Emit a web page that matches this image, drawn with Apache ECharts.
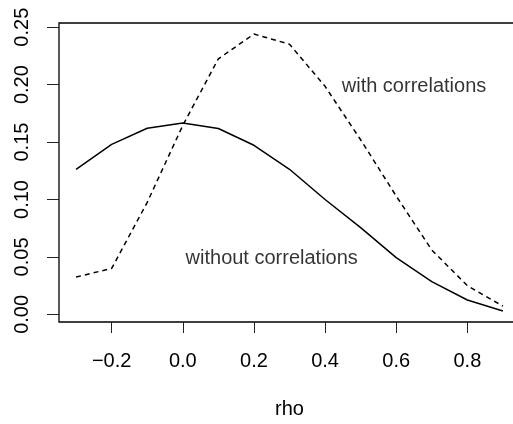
<!DOCTYPE html>
<html>
<head>
<meta charset="utf-8">
<script src="https://cdn.jsdelivr.net/npm/echarts@6/dist/echarts.min.js"></script>
<style>html,body{margin:0;padding:0;background:#fff;overflow:hidden;width:513px;height:424px}#c{width:540px;height:424px}</style>
</head>
<body>
<div id="c"></div>
<script>
var rho = [-0.3, -0.2, -0.1, 0.0, 0.1, 0.2, 0.3, 0.4, 0.5, 0.6, 0.7, 0.8, 0.9];
var withoutCorr = [0.1263, 0.148, 0.162, 0.1665, 0.1618, 0.1472, 0.1263, 0.1, 0.0755, 0.0494, 0.0285, 0.0125, 0.003];
var withCorr = [0.0325, 0.0400, 0.0975, 0.1645, 0.2225, 0.2440, 0.2352, 0.1985, 0.1520, 0.1030, 0.0560, 0.0250, 0.0072];
var xTicks = [-0.2, 0.0, 0.2, 0.4, 0.6, 0.8];
var yTicks = [0.00, 0.05, 0.10, 0.15, 0.20, 0.25];
var annotations = [
  {text: 'with correlations', x: 0.65, y: 0.2},
  {text: 'without correlations', x: 0.25, y: 0.05}
];

function pairs(xs, ys) { return xs.map(function (x, i) { return [x, ys[i]]; }); }
function pad(lo, hi) { var r = hi - lo; return [lo - 0.04 * r, hi + 0.04 * r]; }
var xr = pad(Math.min.apply(null, rho), Math.max.apply(null, rho));
var allY = withoutCorr.concat(withCorr);
var yr = pad(Math.min.apply(null, allY), Math.max.apply(null, allY));

var font = "'Liberation Sans', Arial, Helvetica, sans-serif";
var fs = 20;
var chart = echarts.init(document.getElementById('c'), null, {renderer: 'canvas'});
chart.setOption({
  animation: false,
  backgroundColor: '#fff',
  grid: {left: 59, top: 23, width: 461, height: 300, show: true, borderColor: '#000', borderWidth: 1.3, backgroundColor: 'transparent', containLabel: false},
  xAxis: {
    type: 'value', min: xr[0], max: xr[1],
    name: 'rho', nameLocation: 'middle', nameGap: 77,
    nameTextStyle: {fontFamily: font, fontSize: fs, color: '#000'},
    axisLine: {show: false, onZero: false},
    splitLine: {show: false},
    axisTick: {show: true, length: 11, inside: false, customValues: xTicks, lineStyle: {color: '#222', width: 1}},
    axisLabel: {customValues: xTicks, margin: 29.5, fontFamily: font, fontSize: fs, color: '#000',
      formatter: function (v) { return (v < 0 ? '\u2212' : '') + Math.abs(v).toFixed(1); }}
  },
  yAxis: {
    type: 'value', min: yr[0], max: yr[1],
    axisLine: {show: false, onZero: false},
    splitLine: {show: false},
    axisTick: {show: true, length: 12, inside: false, customValues: yTicks, lineStyle: {color: '#222', width: 1}},
    axisLabel: {customValues: yTicks, rotate: 90, margin: 27, fontFamily: font, fontSize: fs, color: '#000',
      formatter: function (v) { return v.toFixed(2); }}
  },
  series: [
    {type: 'line', data: pairs(rho, withoutCorr), showSymbol: false, symbol: 'none',
     lineStyle: {color: '#000', width: 1.5, type: 'solid'}},
    {type: 'line', data: pairs(rho, withCorr), showSymbol: false, symbol: 'none',
     lineStyle: {color: '#000', width: 1.5, type: [5, 4]}},
    {type: 'scatter', symbolSize: 0, silent: true,
     data: annotations.map(function (a) { return {value: [a.x, a.y], name: a.text}; }),
     label: {show: true, position: 'inside', offset: [0, 2], formatter: function (p) { return p.name; },
       fontFamily: font, fontSize: fs, color: '#000'}}
  ]
});
</script>
</body>
</html>
